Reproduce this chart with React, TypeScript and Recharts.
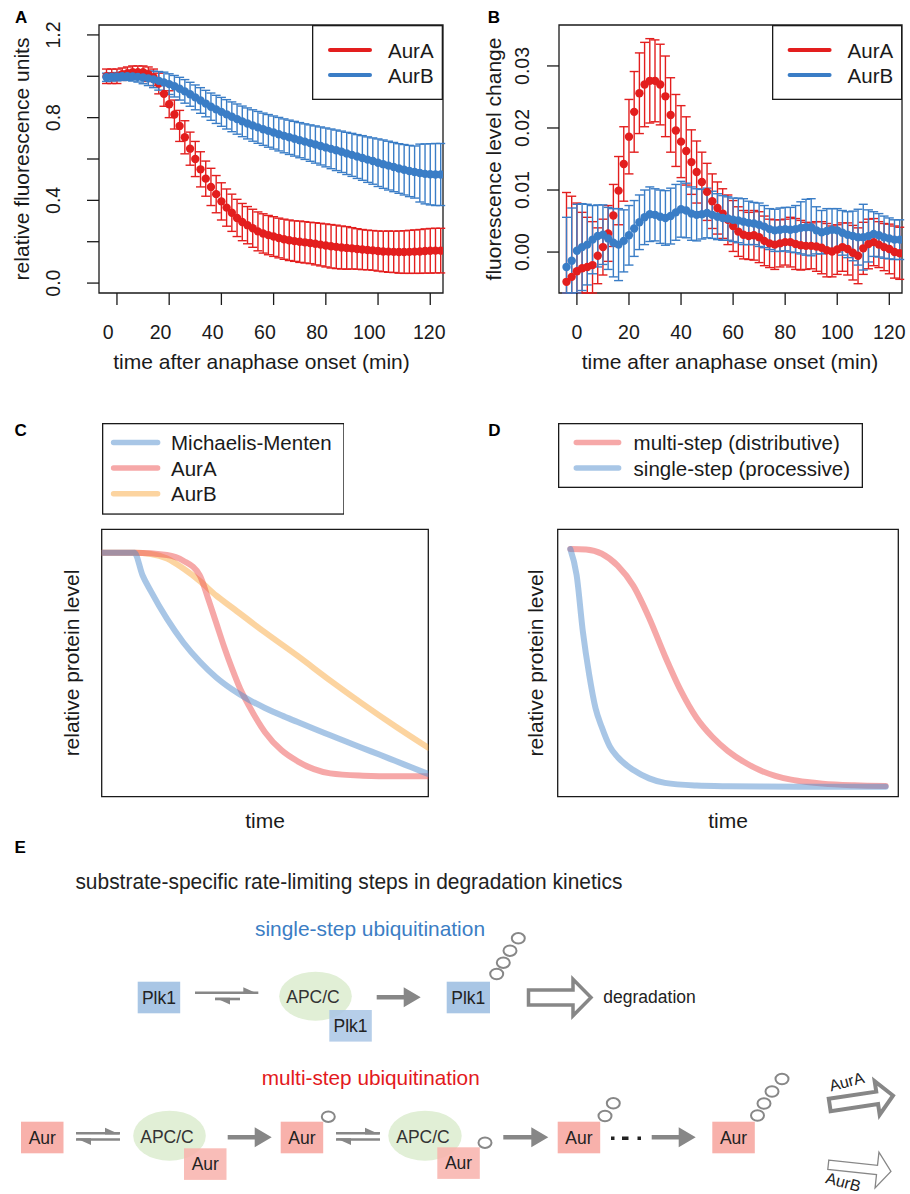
import React from 'react';
import {
  ComposedChart, Scatter, ErrorBar, Line, XAxis, YAxis, ReferenceArea, Legend,
} from 'recharts';

const FONT = '"Liberation Sans", Arial, Helvetica, sans-serif';
const INK = '#1a1a1a';
const RED = '#e31e1e';
const BLUE = '#3a7dc6';
const GRAY = '#878787';

// minutes after anaphase onset (panels A and B)
const TIME = [
  -4, -2, 0, 2, 4, 6, 8, 10, 12, 14,
  16, 18, 20, 22, 24, 26, 28, 30, 32, 34,
  36, 38, 40, 42, 44, 46, 48, 50, 52, 54,
  56, 58, 60, 62, 64, 66, 68, 70, 72, 74,
  76, 78, 80, 82, 84, 86, 88, 90, 92, 94,
  96, 98, 100, 102, 104, 106, 108, 110, 112, 114,
  116, 118, 120, 122, 124,
];

// A: relative fluorescence units
const A_AURA = [
  1.0, 1.0, 1.0, 1.01, 1.015, 1.02, 1.02, 1.02, 1.01, 0.995,
  0.965, 0.915, 0.865, 0.815, 0.76, 0.705, 0.65, 0.6, 0.55, 0.505,
  0.465, 0.43, 0.395, 0.365, 0.34, 0.315, 0.295, 0.28, 0.265, 0.25,
  0.24, 0.232, 0.225, 0.218, 0.212, 0.207, 0.203, 0.2, 0.197, 0.194,
  0.19, 0.186, 0.182, 0.178, 0.175, 0.172, 0.17, 0.168, 0.165, 0.162,
  0.16, 0.158, 0.155, 0.153, 0.152, 0.151, 0.15, 0.15, 0.151, 0.152,
  0.153, 0.155, 0.156, 0.157, 0.157,
];
const A_AURA_ERR = [
  0.035, 0.035, 0.035, 0.03, 0.03, 0.03, 0.03, 0.03, 0.035, 0.04,
  0.05, 0.06, 0.065, 0.07, 0.075, 0.08, 0.08, 0.085, 0.085, 0.085,
  0.09, 0.09, 0.09, 0.09, 0.09, 0.09, 0.09, 0.09, 0.092, 0.094,
  0.095, 0.095, 0.096, 0.096, 0.097, 0.098, 0.098, 0.1, 0.1, 0.1,
  0.102, 0.103, 0.104, 0.105, 0.105, 0.104, 0.103, 0.1, 0.098, 0.097,
  0.096, 0.096, 0.097, 0.098, 0.1, 0.1, 0.102, 0.103, 0.104, 0.105,
  0.106, 0.107, 0.108, 0.108, 0.108,
];
const A_AURB = [
  0.995, 0.997, 0.998, 1.0, 1.0, 0.999, 0.997, 0.994, 0.99, 0.985,
  0.978, 0.97, 0.962, 0.952, 0.94, 0.927, 0.913, 0.898, 0.883, 0.868,
  0.853, 0.84, 0.828, 0.816, 0.804, 0.793, 0.782, 0.772, 0.762, 0.753,
  0.744, 0.736, 0.728, 0.72, 0.712, 0.705, 0.698, 0.691, 0.684, 0.677,
  0.67, 0.663, 0.656, 0.649, 0.642, 0.635, 0.627, 0.62, 0.612, 0.605,
  0.597, 0.59, 0.582, 0.575, 0.568, 0.561, 0.554, 0.548, 0.542, 0.537,
  0.532, 0.528, 0.526, 0.525, 0.525,
];
const A_AURB_ERR = [
  0.02, 0.02, 0.02, 0.02, 0.02, 0.022, 0.025, 0.03, 0.035, 0.04,
  0.045, 0.05, 0.05, 0.052, 0.055, 0.057, 0.058, 0.06, 0.062, 0.064,
  0.066, 0.068, 0.07, 0.071, 0.072, 0.073, 0.074, 0.075, 0.076, 0.077,
  0.078, 0.079, 0.08, 0.081, 0.082, 0.083, 0.084, 0.085, 0.086, 0.088,
  0.09, 0.092, 0.094, 0.096, 0.098, 0.1, 0.102, 0.104, 0.106, 0.108,
  0.11, 0.112, 0.115, 0.117, 0.118, 0.119, 0.12, 0.122, 0.124, 0.126,
  0.14, 0.145, 0.148, 0.15, 0.15,
];

// B: fluorescence level change
const B_AURA = [
  -0.0048, -0.004, -0.0031, -0.0026, -0.0024, -0.0021, -0.0006, 0.0008, 0.003, 0.0059,
  0.0099, 0.0142, 0.0186, 0.0226, 0.0256, 0.027, 0.0276, 0.0276, 0.027, 0.0251,
  0.0221, 0.0196, 0.0178, 0.0163, 0.0145, 0.0129, 0.0113, 0.0097, 0.0082, 0.0071,
  0.0062, 0.0052, 0.0042, 0.0033, 0.0028, 0.0026, 0.0027, 0.0024, 0.0018, 0.0014,
  0.0012, 0.0014, 0.0016, 0.0016, 0.0013, 0.0011, 0.001, 0.001, 0.0009, 0.0007,
  0.0003, 0.0001, 0.0004, 0.0008, 0.0005, -0.0001, -0.0006, 0.0006, 0.0013, 0.0016,
  0.0012, 0.0008, 0.0005, 0.0, -0.0002,
];
const B_AURA_ERR = [
  0.0144, 0.013, 0.011, 0.009, 0.008, 0.007, 0.0045, 0.0045, 0.0045, 0.005,
  0.0055, 0.006, 0.006, 0.0065, 0.0065, 0.0068, 0.0068, 0.0066, 0.0065, 0.0065,
  0.006, 0.0058, 0.0058, 0.0055, 0.0052, 0.005, 0.0048, 0.0046, 0.0044, 0.0042,
  0.004, 0.004, 0.0041, 0.004, 0.0039, 0.0038, 0.004, 0.0041, 0.004, 0.0039,
  0.004, 0.0038, 0.0037, 0.004, 0.0041, 0.004, 0.0038, 0.0037, 0.004, 0.0042,
  0.0043, 0.0041, 0.004, 0.0039, 0.0042, 0.0044, 0.0045, 0.0042, 0.004, 0.0038,
  0.0037, 0.0038, 0.004, 0.0042, 0.0042,
];
const B_AURB = [
  -0.0024, -0.0014, 0.0002, 0.0008, 0.0012, 0.002, 0.0026, 0.0028, 0.0022, 0.0015,
  0.0012, 0.0018, 0.0027, 0.0038, 0.0048, 0.0056, 0.0061, 0.006, 0.0057, 0.0055,
  0.0058, 0.0064, 0.0069, 0.0067, 0.0062, 0.006, 0.0061, 0.0063, 0.006, 0.0057,
  0.0055, 0.0054, 0.0052, 0.0051, 0.0049, 0.0047, 0.0046, 0.0044, 0.0041, 0.0037,
  0.0035, 0.0036, 0.0037, 0.0036, 0.0037, 0.0039, 0.004, 0.004, 0.0035, 0.0032,
  0.0034, 0.0036, 0.0035, 0.0031, 0.0028, 0.0026, 0.0024, 0.0024, 0.0026, 0.0029,
  0.0027, 0.0024, 0.0022, 0.002, 0.002,
];
const B_AURB_ERR = [
  0.008, 0.0085, 0.0075, 0.007, 0.0065, 0.0055, 0.005, 0.0048, 0.005, 0.0055,
  0.0058, 0.005, 0.0048, 0.0045, 0.0044, 0.0044, 0.0044, 0.0042, 0.0043, 0.0044,
  0.0045, 0.0045, 0.0045, 0.0044, 0.0043, 0.0042, 0.004, 0.004, 0.0038, 0.0037,
  0.0036, 0.0035, 0.0035, 0.0036, 0.0037, 0.0035, 0.0034, 0.0035, 0.0034, 0.0033,
  0.0034, 0.0035, 0.0035, 0.0036, 0.0038, 0.0042, 0.0045, 0.0046, 0.0038, 0.0035,
  0.0036, 0.0034, 0.0035, 0.0036, 0.0037, 0.004, 0.0045, 0.0053, 0.0042, 0.0036,
  0.0035, 0.0034, 0.0033, 0.0032, 0.0032,
];

const X_TICKS = [0, 20, 40, 60, 80, 100, 120];
const A_Y_TICKS = [0, 0.2, 0.4, 0.6, 0.8, 1.0, 1.2];
const A_Y_LABELED = [0, 0.4, 0.8, 1.2];
const B_Y_TICKS = [0, 0.01, 0.02, 0.03];

// C: model curves (arbitrary time, relative level)
const C_MM_T = [0, 1, 1.25, 1.5, 2, 2.5, 3, 3.5, 4, 4.5, 5, 5.5, 6, 6.5, 7, 7.5, 8, 8.5, 9, 9.5, 10];
const C_MM = [1, 1, 0.9, 0.83, 0.705, 0.6, 0.515, 0.445, 0.39, 0.345, 0.308, 0.275, 0.245, 0.215, 0.186, 0.157, 0.128, 0.1, 0.071, 0.042, 0.013];
const C_AURA_T = [0, 1, 2, 2.5, 3, 3.25, 3.5, 3.75, 4, 4.25, 4.5, 5, 5.5, 6, 6.5, 7, 8, 9, 10];
const C_AURA = [1, 1, 0.99, 0.965, 0.9, 0.8, 0.69, 0.58, 0.48, 0.39, 0.32, 0.2, 0.12, 0.07, 0.035, 0.016, 0.006, 0.003, 0.003];
const C_AURB_T = [0, 1, 1.5, 2, 2.5, 3, 3.5, 4, 5, 6, 7, 8, 9, 10];
const C_AURB = [1, 1, 0.995, 0.975, 0.93, 0.875, 0.81, 0.755, 0.645, 0.54, 0.43, 0.325, 0.225, 0.13];

// D: multi-step vs single-step
const D_MULTI_T = [0, 0.5, 1, 1.5, 2, 2.5, 3, 3.5, 4, 4.5, 5, 5.5, 6, 6.5, 7, 7.5, 8, 9, 10];
const D_MULTI = [1, 0.998, 0.98, 0.93, 0.845, 0.71, 0.55, 0.405, 0.29, 0.21, 0.15, 0.105, 0.07, 0.046, 0.03, 0.02, 0.013, 0.006, 0.003];
const D_SINGLE_T = [0, 0.2, 0.4, 0.6, 0.8, 1, 1.25, 1.5, 2, 2.5, 3, 4, 5, 6, 8, 10];
const D_SINGLE = [1, 0.89, 0.65, 0.47, 0.33, 0.25, 0.17, 0.125, 0.07, 0.035, 0.016, 0.005, 0.002, 0.001, 0, 0];

const C_BLUE = 'rgb(81,141,205)';
const C_RED = 'rgb(237,81,81)';
const C_ORANGE = 'rgb(250,170,65)';

type Row = { t: number; v: number; e: number[] };

// error bars are cut at the plot frame, the way R clips them
const rows = (ts: number[], vs: number[], es?: number[], dom?: [number, number]): Row[] =>
  ts.map((t, i) => {
    const v = vs[i];
    const e = es ? es[i] : 0;
    const lo = dom ? Math.max(0, Math.min(e, v - dom[0])) : e;
    const hi = dom ? Math.max(0, Math.min(e, dom[1] - v)) : e;
    return { t, v, e: [lo, hi] };
  });

type LegendItem = { label: string; color: string; opacity?: number };

function LegendBox({ w, h, items, lx1, lx2, tx, rowY, lw }: {
  w: number; h: number; items: LegendItem[]; lx1: number; lx2: number; tx: number; rowY: number[]; lw: number;
}) {
  return (
    <svg width={w} height={h} style={{ display: 'block' }}>
      <rect x={0.65} y={0.65} width={w - 1.3} height={h - 1.3} fill="#fff" stroke={INK} strokeWidth={1.3} />
      {items.map((it, i) => (
        <g key={it.label}>
          <line x1={lx1} x2={lx2} y1={rowY[i]} y2={rowY[i]} stroke={it.color}
            strokeOpacity={it.opacity ?? 1} strokeWidth={lw} strokeLinecap="round" />
          <text x={tx} y={rowY[i]} dominantBaseline="central" fontSize={20.5} fill={INK} fontFamily={FONT}>{it.label}</text>
        </g>
      ))}
    </svg>
  );
}

type TCProps = {
  boxL: number; boxR: number;
  xDomain: [number, number]; yDomain: [number, number];
  yTicks: number[]; yShow: (v: number) => boolean; yFmt: (v: number) => string;
  yTickCx: number; yTitleCx: number; yTitle: string;
  xTitleCx: number; xLabelDx: (v: number) => number;
  red: Row[]; blue: Row[];
  legendLeft: number; legendW: number; legendLx1: number; legendTx: number;
};

function TimeCourse(p: TCProps) {
  const W = 455, H = 380, TOP = 25, BOTTOM = 293;
  const dot = (color: string) => (s: any) => <circle cx={s.cx} cy={s.cy} r={4.2} fill={color} />;
  const yTick = (s: any) => {
    const v = s.payload.value;
    if (!p.yShow(v)) return <g />;
    return (
      <text x={p.yTickCx} y={s.y} transform={`rotate(-90 ${p.yTickCx} ${s.y})`} textAnchor="middle"
        dominantBaseline="central" fontSize={19.5} fill={INK} fontFamily={FONT}>{p.yFmt(v)}</text>
    );
  };
  const xTick = (s: any) => (
    <text x={s.x + p.xLabelDx(s.payload.value)} y={331.7} textAnchor="middle" dominantBaseline="central"
      fontSize={19.5} fill={INK} fontFamily={FONT}>{s.payload.value}</text>
  );
  const midY = (TOP + BOTTOM) / 2;
  return (
    <ComposedChart width={W} height={H} margin={{ top: TOP, right: W - p.boxR, bottom: 0, left: 0 }}>
      <XAxis type="number" dataKey="t" domain={p.xDomain} allowDataOverflow ticks={X_TICKS} interval={0}
        height={H - BOTTOM} axisLine={false} tickLine={{ stroke: INK, strokeWidth: 1.3 }} tickSize={12}
        tick={xTick}
        label={() => (
          <text x={p.xTitleCx} y={361.7} textAnchor="middle" dominantBaseline="central" fontSize={21}
            fill={INK} fontFamily={FONT}>time after anaphase onset (min)</text>
        )} />
      <YAxis type="number" dataKey="v" domain={p.yDomain} allowDataOverflow ticks={p.yTicks} interval={0}
        width={p.boxL} axisLine={false} tickLine={{ stroke: INK, strokeWidth: 1.3 }} tickSize={12}
        tick={yTick}
        label={() => (
          <text x={p.yTitleCx} y={midY} transform={`rotate(-90 ${p.yTitleCx} ${midY})`} textAnchor="middle"
            dominantBaseline="central" fontSize={21} fill={INK} fontFamily={FONT}>{p.yTitle}</text>
        )} />
      <Scatter data={p.red} fill={RED} shape={dot(RED)} isAnimationActive={false}>
        <ErrorBar dataKey="e" direction="y" width={4.5} stroke={RED} strokeWidth={1.4} isAnimationActive={false} />
      </Scatter>
      <Scatter data={p.blue} fill={BLUE} shape={dot(BLUE)} isAnimationActive={false}>
        <ErrorBar dataKey="e" direction="y" width={4.5} stroke={BLUE} strokeWidth={1.4} isAnimationActive={false} />
      </Scatter>
      <ReferenceArea x1={p.xDomain[0]} x2={p.xDomain[1]} y1={p.yDomain[0]} y2={p.yDomain[1]}
        fill="none" stroke={INK} strokeWidth={1.3} ifOverflow="visible" />
      <Legend layout="vertical" align="center" verticalAlign="middle"
        wrapperStyle={{ position: 'absolute', left: p.legendLeft, top: TOP, width: p.legendW, height: 75 }}
        content={() => (
          <LegendBox w={p.legendW} h={75} lw={4} lx1={p.legendLx1} lx2={p.legendLx1 + 40} tx={p.legendTx} rowY={[25, 50]}
            items={[{ label: 'AurA', color: RED }, { label: 'AurB', color: BLUE }]} />
        )} />
    </ComposedChart>
  );
}

type Curve = { name: string; color: string; data: Row[] };

function ModelChart({ boxL, boxR, xDomain, yDomain, curves, yTitleCx, legend }: {
  boxL: number; boxR: number; xDomain: [number, number]; yDomain: [number, number];
  curves: Curve[]; yTitleCx: number; legend: React.ReactNode;
}) {
  const W = 455, H = 440, TOP = 129.3, BOTTOM = 396.7;
  const midY = (TOP + BOTTOM) / 2;
  return (
    <ComposedChart width={W} height={H} margin={{ top: TOP, right: W - boxR, bottom: 0, left: 0 }}>
      <XAxis type="number" dataKey="t" domain={xDomain} allowDataOverflow height={H - BOTTOM}
        tick={false} axisLine={false} tickLine={false}
        label={() => (
          <text x={(boxL + boxR) / 2} y={420} textAnchor="middle" dominantBaseline="central" fontSize={21}
            fill={INK} fontFamily={FONT}>time</text>
        )} />
      <YAxis type="number" dataKey="v" domain={yDomain} allowDataOverflow width={boxL}
        tick={false} axisLine={false} tickLine={false}
        label={() => (
          <text x={yTitleCx} y={midY} transform={`rotate(-90 ${yTitleCx} ${midY})`} textAnchor="middle"
            dominantBaseline="central" fontSize={21} fill={INK} fontFamily={FONT}>relative protein level</text>
        )} />
      {curves.map(c => (
        <Line key={c.name} data={c.data} dataKey="v" type="monotone" stroke={c.color} strokeOpacity={0.5}
          strokeWidth={6} dot={false} activeDot={false} strokeLinecap="round" isAnimationActive={false} />
      ))}
      <ReferenceArea x1={xDomain[0]} x2={xDomain[1]} y1={yDomain[0]} y2={yDomain[1]}
        fill="none" stroke={INK} strokeWidth={1.3} ifOverflow="visible" />
      {legend}
    </ComposedChart>
  );
}

// ---------- panel E diagram ----------
const PLK = '#a9c6e5';
const AUR = '#f8b1ab';
const APC = '#e1efd6';

function Protein({ x, y, label, fill, w = 42.5, h = 31.6, op = 1 }: any) {
  return (
    <g>
      <rect x={x} y={y} width={w} height={h} fill={fill} fillOpacity={op} />
      <text x={x + w / 2} y={y + h / 2} textAnchor="middle" dominantBaseline="central" fontSize={17.5}
        fill="#222" fontFamily={FONT}>{label}</text>
    </g>
  );
}

function ApcC({ cx, cy, rx = 36.3, ry = 25 }: any) {
  return <ellipse cx={cx} cy={cy} rx={rx} ry={ry} fill={APC} />;
}

function ApcLabel({ x, y }: any) {
  return <text x={x} y={y} textAnchor="middle" dominantBaseline="central" fontSize={17.5} fill="#333" fontFamily={FONT}>APC/C</text>;
}

function Equil({ x1, x2, bx1, bx2, y1, y2 }: any) {
  return (
    <g>
      <line x1={x1} y1={y1} x2={x2} y2={y1} stroke={GRAY} strokeWidth={2.6} />
      <polygon points={`${x2},${y1 + 1.3} ${x2 - 15},${y1 - 5.5} ${x2 - 15},${y1 + 1.3}`} fill={GRAY} />
      <line x1={bx1} y1={y2} x2={bx2} y2={y2} stroke={GRAY} strokeWidth={2.6} />
      <polygon points={`${bx1},${y2 - 1.3} ${bx1 + 15},${y2 + 5.5} ${bx1 + 15},${y2 - 1.3}`} fill={GRAY} />
    </g>
  );
}

function SolidArrow({ x1, x2, y }: any) {
  const hx = x2 - 17;
  return (
    <polygon fill={GRAY}
      points={`${x1},${y - 2.3} ${hx},${y - 2.3} ${hx},${y - 10} ${x2},${y} ${hx},${y + 10} ${hx},${y + 2.3} ${x1},${y + 2.3}`} />
  );
}

function OpenArrow({ x, y, len, angle = 0, shaft, headLen, head, sw }: any) {
  const h = len - headLen;
  const pts = [[0, -shaft], [h, -shaft], [h, -head], [len, 0], [h, head], [h, shaft], [0, shaft]];
  return (
    <polygon points={pts.map(q => q.join(',')).join(' ')} transform={`translate(${x} ${y}) rotate(${angle})`}
      fill="#fff" stroke={GRAY} strokeWidth={sw} strokeLinejoin="miter" />
  );
}

function Ub({ pts }: { pts: number[][] }) {
  return (
    <g>
      {pts.map(([cx, cy], i) => (
        <ellipse key={i} cx={cx} cy={cy} rx={6.5} ry={5.2} fill="#fff" stroke={GRAY} strokeWidth={2} />
      ))}
    </g>
  );
}

function Overlay() {
  const letter = (x: number, y: number, s: string) => (
    <text x={x} y={y} fontSize={17} fontWeight="bold" fill="#000" fontFamily={FONT}>{s}</text>
  );
  return (
    <svg width={910} height={1194} style={{ position: 'absolute', left: 0, top: 0, pointerEvents: 'none' }}>
      {letter(15, 23.3, 'A')}
      {letter(487.7, 23.3, 'B')}
      {letter(14.5, 436, 'C')}
      {letter(488.3, 436, 'D')}
      {letter(14.5, 853, 'E')}

      <text x={75.4} y={882} dominantBaseline="central" fontSize={21.5} fill="#222" fontFamily={FONT}
        textLength={547} lengthAdjust="spacingAndGlyphs">substrate-specific rate-limiting steps in degradation kinetics</text>

      {/* single-step */}
      <text x={255} y={928.5} dominantBaseline="central" fontSize={21} fill="#3b7dc4" fontFamily={FONT}
        textLength={230} lengthAdjust="spacingAndGlyphs">single-step ubiquitination</text>
      <Protein x={137.7} y={981.7} label="Plk1" fill={PLK} />
      <Equil x1={195} x2={258.3} bx1={215} bx2={240} y1={992.7} y2={999} />
      <ApcC cx={315.5} cy={996.2} ry={24.5} />
      <Protein x={329.3} y={1010} label="Plk1" fill={PLK} op={0.85} />
      <ApcLabel x={313} y={996.5} />
      <SolidArrow x1={376.7} x2={420.7} y={997.3} />
      <Protein x={446.7} y={981.7} label="Plk1" fill={PLK} w={43.3} />
      <Ub pts={[[496.7, 974], [503.3, 962.7], [510, 950.7], [518.3, 938.3]]} />
      <OpenArrow x={528.5} y={997.5} len={62.5} shaft={7.5} headLen={18} head={18.3} sw={3.5} />
      <text x={603.3} y={997.3} dominantBaseline="central" fontSize={17.5} fill="#222" fontFamily={FONT}>degradation</text>

      {/* multi-step */}
      <text x={261.7} y={1077} dominantBaseline="central" fontSize={21} fill="#e3191c" fontFamily={FONT}
        textLength={218} lengthAdjust="spacingAndGlyphs">multi-step ubiquitination</text>
      <Protein x={21} y={1121.7} label="Aur" fill={AUR} />
      <Equil x1={76} x2={120} bx1={76} bx2={120} y1={1133.3} y2={1139.5} />
      <ApcC cx={169.5} cy={1135.7} />
      <Protein x={184} y={1148.3} label="Aur" fill={AUR} op={0.85} />
      <ApcLabel x={167} y={1137} />
      <SolidArrow x1={227.7} x2={271.7} y={1137.3} />
      <Protein x={280.7} y={1121.7} label="Aur" fill={AUR} />
      <Ub pts={[[328.3, 1116.7]]} />
      <Equil x1={336} x2={380} bx1={336} bx2={380} y1={1133.3} y2={1139.5} />
      <ApcC cx={425} cy={1135.7} rx={36.7} />
      <Protein x={437.3} y={1147.3} label="Aur" fill={AUR} op={0.85} />
      <ApcLabel x={423} y={1137} />
      <Ub pts={[[485, 1142.7]]} />
      <SolidArrow x1={503.3} x2={548.3} y={1137.3} />
      <Protein x={557.7} y={1121.7} label="Aur" fill={AUR} />
      <Ub pts={[[605, 1116], [613.3, 1103.3]]} />
      <rect x={611} y={1136.5} width={3.5} height={3.5} fill="#222" />
      <rect x={622} y={1136.5} width={6.5} height={3.5} fill="#222" />
      <rect x={637.5} y={1136.5} width={3.5} height={3.5} fill="#222" />
      <SolidArrow x1={651.7} x2={695.7} y={1137.3} />
      <Protein x={712.3} y={1121.7} label="Aur" fill={AUR} />
      <Ub pts={[[757.5, 1115.5], [764, 1103.5], [772, 1091.5], [782, 1079]]} />

      <OpenArrow x={829.7} y={1105} len={64} angle={-8.5} shaft={6.3} headLen={16} head={17} sw={4} />
      <text x={846.7} y={1081.7} transform="rotate(-15 846.7 1081.7)" textAnchor="middle" dominantBaseline="central"
        fontSize={16} fill="#222" fontFamily={FONT}>AurA</text>
      <OpenArrow x={828.3} y={1164.7} len={63} angle={6.2} shaft={4.7} headLen={14} head={18} sw={1.3} />
      <text x={843.3} y={1182} transform="rotate(15 843.3 1182)" textAnchor="middle" dominantBaseline="central"
        fontSize={16} fill="#222" fontFamily={FONT}>AurB</text>
    </svg>
  );
}

const A_X_DOM: [number, number] = [-6.88, 124.88];
const A_Y_DOM: [number, number] = [-0.048, 1.248];
const B_Y_DOM: [number, number] = [-0.0066, 0.0366];

export default function App() {
  const aRed = rows(TIME, A_AURA, A_AURA_ERR, A_Y_DOM);
  const aBlue = rows(TIME, A_AURB, A_AURB_ERR, A_Y_DOM);
  const bRed = rows(TIME, B_AURA, B_AURA_ERR, B_Y_DOM);
  const bBlue = rows(TIME, B_AURB, B_AURB_ERR, B_Y_DOM);

  const mm: Curve = { name: 'Michaelis-Menten', color: C_BLUE, data: rows(C_MM_T, C_MM) };
  const ca: Curve = { name: 'AurA', color: C_RED, data: rows(C_AURA_T, C_AURA) };
  const cb: Curve = { name: 'AurB', color: C_ORANGE, data: rows(C_AURB_T, C_AURB) };
  const cLegend = [mm, ca, cb];
  const dCurves: Curve[] = [
    { name: 'multi-step (distributive)', color: C_RED, data: rows(D_MULTI_T, D_MULTI) },
    { name: 'single-step (processive)', color: C_BLUE, data: rows(D_SINGLE_T, D_SINGLE) },
  ];

  return (
    <div style={{ position: 'absolute', left: 0, top: 0, width: 910, height: 1194, background: '#fff', fontFamily: FONT }}>
      <div style={{ position: 'absolute', left: 0, top: 0 }}>
        <TimeCourse boxL={99} boxR={443} xDomain={A_X_DOM} yDomain={A_Y_DOM}
          yTicks={A_Y_TICKS} yShow={v => A_Y_LABELED.includes(v)} yFmt={v => v.toFixed(1)}
          yTickCx={53.3} yTitleCx={21.7} yTitle="relative fluorescence units"
          xTitleCx={261.5} xLabelDx={v => (v === 120 ? -1 : -8.7)}
          red={aRed} blue={aBlue} legendLeft={312} legendW={131} legendLx1={18} legendTx={76} />
      </div>
      <div style={{ position: 'absolute', left: 455, top: 0 }}>
        <TimeCourse boxL={104} boxR={447} xDomain={A_X_DOM} yDomain={B_Y_DOM}
          yTicks={B_Y_TICKS} yShow={() => true} yFmt={v => v.toFixed(2)}
          yTickCx={66.7} yTitleCx={38.3} yTitle="fluorescence level change"
          xTitleCx={275} xLabelDx={() => 0}
          red={bRed} blue={bBlue} legendLeft={316.7} legendW={130.3} legendLx1={17.6} legendTx={75.6} />
      </div>
      <div style={{ position: 'absolute', left: 0, top: 400 }}>
        <ModelChart boxL={101.7} boxR={428.3} xDomain={[0, 10]} yDomain={[-0.088, 1.105]} curves={[cb, ca, mm]}
          yTitleCx={71.7}
          legend={
            <Legend layout="vertical" align="center" verticalAlign="middle"
              wrapperStyle={{ position: 'absolute', left: 101.7, top: 23.3, width: 242.6, height: 91.7 }}
              content={() => (
                <LegendBox w={242.6} h={91.7} lw={5.5} lx1={11.6} lx2={55.6} tx={69} rowY={[19.4, 45, 70.7]}
                  items={cLegend.map(c => ({ label: c.name, color: c.color, opacity: 0.5 }))} />
              )} />
          } />
      </div>
      <div style={{ position: 'absolute', left: 455, top: 400 }}>
        <ModelChart boxL={102.7} boxR={443.3} xDomain={[-0.4, 10.4]} yDomain={[-0.042, 1.083]} curves={dCurves}
          yTitleCx={80.8}
          legend={
            <Legend layout="vertical" align="center" verticalAlign="middle"
              wrapperStyle={{ position: 'absolute', left: 102.7, top: 23.3, width: 305, height: 65 }}
              content={() => (
                <LegendBox w={305} h={65} lw={5.5} lx1={18.3} lx2={60.6} tx={75.6} rowY={[19.4, 45]}
                  items={dCurves.map(c => ({ label: c.name, color: c.color, opacity: 0.5 }))} />
              )} />
          } />
      </div>
      <Overlay />
    </div>
  );
}
